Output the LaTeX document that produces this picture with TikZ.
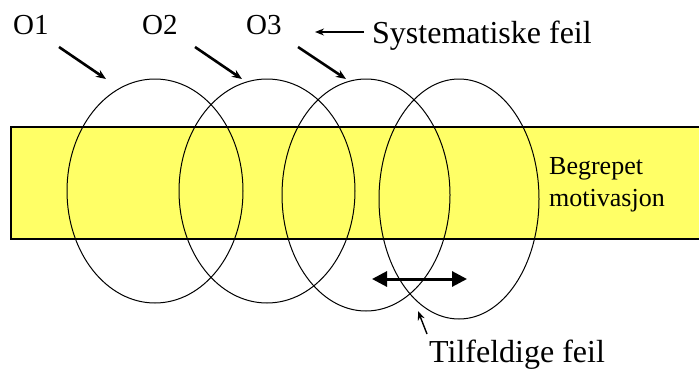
\documentclass[tikz,border=0pt]{standalone}
\usepackage{fontspec}
\setmainfont{Liberation Serif}
\usetikzlibrary{arrows.meta}
\definecolor{begrepgul}{RGB}{255,255,102}

\begin{document}
\begin{tikzpicture}[x=1pt, y=-1pt, >={Stealth[length=10pt,width=8pt]},
  lab/.style={inner sep=0pt, anchor=base west, font=\fontsize{32}{38}\selectfont},
  olab/.style={lab, font=\fontsize{29}{35}\selectfont},
  blab/.style={lab, font=\fontsize{26}{32}\selectfont},
  ring/.style={line width=1pt},
  tykk/.style={->, line width=2.6pt},
  tynn/.style={-{Stealth[length=9pt,width=7pt]}, line width=1.4pt},
  dobbel/.style={{Triangle[length=15pt,width=15pt]}-{Triangle[length=15pt,width=15pt]}, line width=3pt}]
  \useasboundingbox (0,0) rectangle (699,370);

  % begrepet
  \fill[begrepgul] (11,127) rectangle (699,239);
  \draw[line width=1.2pt] (699,127) -- (11,127) -- (11,239) -- (699,239);
  \node[blab] (begrepet) at (549,174) {Begrepet};
  \node[blab] (motiv) at (549,206) {motivasjon};

  % maalinger
  \draw[ring] (155,191) ellipse [x radius=88, y radius=112];
  \draw[ring] (267,191) ellipse [x radius=88, y radius=112];
  \draw[ring] (366,195) ellipse [x radius=84, y radius=116];
  \draw[ring] (459,199) ellipse [x radius=80, y radius=120];

  % observasjoner
  \node[olab] (o1) at (13,34) {O1};
  \node[olab] (o2) at (142,34) {O2};
  \node[olab] (o3) at (246,34) {O3};
  \coordinate (o1s) at (59,47);   \coordinate (o1e) at (106,79);
  \coordinate (o2s) at (195,47);  \coordinate (o2e) at (242,79);
  \coordinate (o3s) at (298,47);  \coordinate (o3e) at (346,79);
  \draw[tykk] (o1s) -- (o1e);
  \draw[tykk] (o2s) -- (o2e);
  \draw[tykk] (o3s) -- (o3e);

  % feil
  \node[lab] (sys) at (372,43) {Systematiske feil};
  \coordinate (syss) at (364,32); \coordinate (syse) at (315,32);
  \draw[tynn] (syss) -- (syse);

  \node[lab] (tilf) at (429,362) {Tilfeldige feil};
  \coordinate (tilfs) at (427,334); \coordinate (tilfe) at (418,311);
  \draw[tynn] (tilfs) -- (tilfe);

  \coordinate (dv) at (372,279); \coordinate (dh) at (467,279);
  \draw[dobbel] (dv) -- (dh);
\end{tikzpicture}
\end{document}
